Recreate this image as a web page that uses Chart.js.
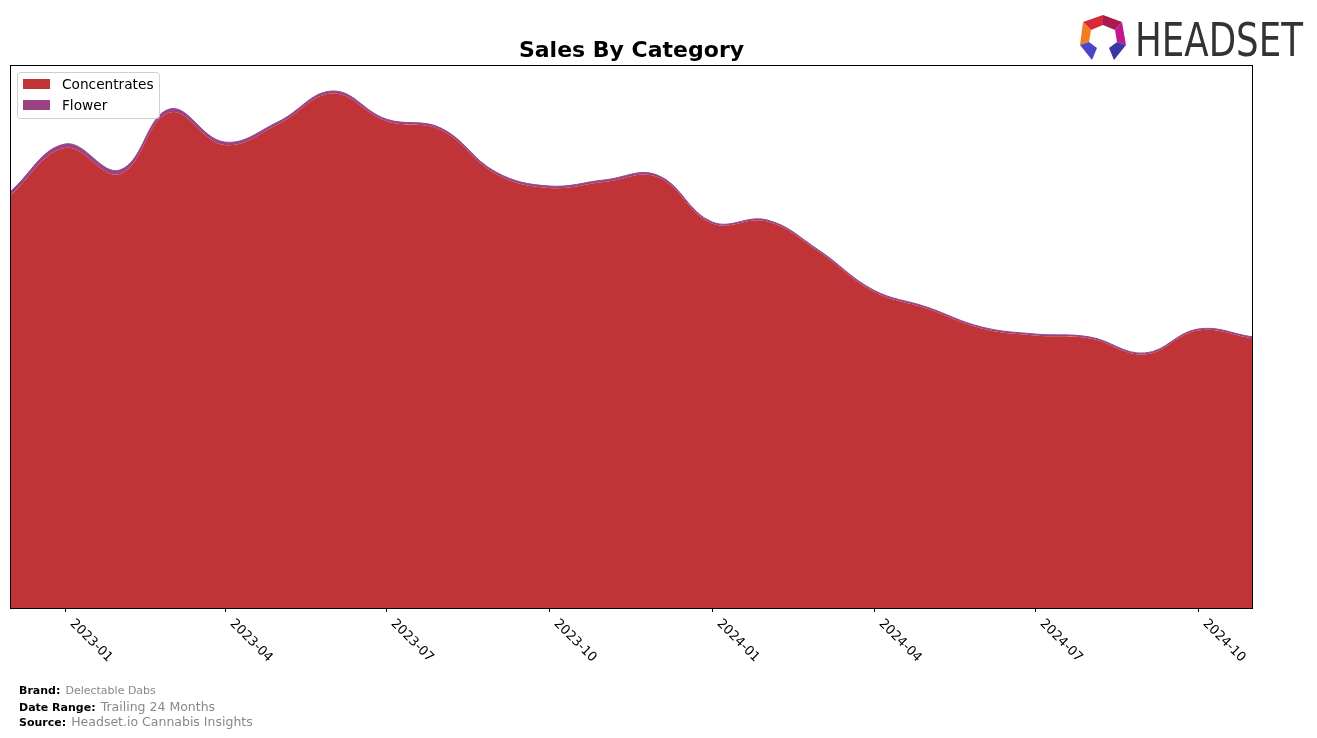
<!DOCTYPE html>
<html>
<head>
<meta charset="utf-8">
<script src="https://cdn.jsdelivr.net/npm/chart.js@4.4.1/dist/chart.umd.min.js"></script>
<style>
  body { margin: 0; background: #fff; font-family: "DejaVu Sans", sans-serif; }
  #wrap { position: relative; width: 1317px; height: 738px; }
  #logo { position: absolute; left: 0; top: 0; }
  .foot { position: absolute; left: 19px; white-space: nowrap; color: #000; }
  .foot b { font-size: 11px; }
  .foot span { color: #888; }
</style>
</head>
<body>
<div id="wrap">
  <canvas id="myChart" width="1317" height="738"></canvas>
  <svg id="logo" width="1317" height="70">
    <polygon points="1083,22 1103,15 1103,25 1091,30" fill="#d8283c"/>
    <polygon points="1103,15 1122,22 1115,30 1103,25" fill="#a81a50"/>
    <polygon points="1122,22 1126,45 1117,42 1115,30" fill="#c2188f"/>
    <polygon points="1083,22 1091,30 1089,42 1080,45" fill="#f47c20"/>
    <polygon points="1080,45 1089,42 1097,48 1092,60" fill="#4b45c8"/>
    <polygon points="1126,45 1117,42 1109,48 1114,60" fill="#3a36a8"/>
    <text x="1135" y="56" font-family="DejaVu Sans" font-size="47" fill="#333" textLength="168" lengthAdjust="spacingAndGlyphs">HEADSET</text>
  </svg>
  <div class="foot" style="top:679px"><b>Brand:</b> <span style="font-size:11px">Delectable Dabs</span></div>
  <div class="foot" style="top:696px"><b>Date Range:</b> <span style="font-size:12.5px">Trailing 24 Months</span></div>
  <div class="foot" style="top:711px"><b>Source:</b> <span style="font-size:12.5px">Headset.io Cannabis Insights</span></div>
</div>
<script>
var months = ['2022-12','2023-01','2023-02','2023-03','2023-04','2023-05','2023-06','2023-07','2023-08','2023-09','2023-10','2023-11',
	'2023-12','2024-01','2024-02','2024-03','2024-04','2024-05','2024-06','2024-07','2024-08','2024-09','2024-10','2024-11']
var concentrates = [412, 460, 434, 495.5, 463, 483.5, 514.5, 487, 478, 434, 420, 426,
	431, 384.5, 386.5, 356.5, 316.5, 299.5, 279.5, 272.5, 269.5, 253.5, 277.5, 269.5]
var flower = [4, 4, 4, 3.5, 3, 2.5, 2.5, 2, 2, 2, 2, 2,
	2, 1.5, 1.5, 1.5, 1.5, 1.5, 1.5, 1.5, 1.5, 1.5, 1.5, 1.5]
var tickLabels = ['2023-01','2023-04','2023-07','2023-10','2024-01','2024-04','2024-07','2024-10']

var Start = Date.UTC(2022, 11, 1)

// so ngay tu 2022-12-01
function dayOf(s) {
	let p = s.split('-').map(Number)
	return (Date.UTC(p[0], p[1] - 1, 1) - Start) / 86400000
}

function toPoints(arr) {
	return arr.map((v, i) => ({ x: dayOf(months[i]), y: v }))
}

/* ve khung, tick, nhan, legend, tieu de */
var decor = {
	id: 'decor',
	afterDraw(chart) {
		const c = chart.ctx
		const a = chart.chartArea
		const xs = chart.scales.x
		c.save()
		c.strokeStyle = '#000'
		c.lineWidth = 1
		c.strokeRect(a.left + 0.5, a.top + 0.5, a.right - a.left - 1, a.bottom - a.top)

		c.font = '13px "DejaVu Sans"'
		c.fillStyle = '#000'
		tickLabels.forEach(t => {
			const x = Math.round(xs.getPixelForValue(dayOf(t))) + 0.5
			c.beginPath()
			c.moveTo(x, a.bottom)
			c.lineTo(x, a.bottom + 4)
			c.stroke()
			c.save()
			c.translate(x + 11, a.bottom + 9)
			c.rotate(Math.PI / 4)
			c.textAlign = 'left'
			c.textBaseline = 'top'
			c.fillText(t, 0, 0)
			c.restore()
		})

		// tieu de
		c.font = 'bold 22px "DejaVu Sans"'
		c.textAlign = 'center'
		c.textBaseline = 'middle'
		c.fillText('Sales By Category', (a.left + a.right) / 2, 51)

		// legend
		const lx = a.left + 7, ly = a.top + 7
		c.fillStyle = 'rgba(255,255,255,0.8)'
		c.strokeStyle = '#d0d0d0'
		c.beginPath()
		c.roundRect(lx + 0.5, ly + 0.5, 142, 46, 3)
		c.fill()
		c.stroke()
		chart.data.datasets.forEach((ds, i) => {
			const y = ly + 7 + i * 21
			c.fillStyle = ds.backgroundColor
			c.fillRect(lx + 6, y, 27, 10)
			c.fillStyle = '#000'
			c.font = '13.7px "DejaVu Sans"'
			c.textAlign = 'left'
			c.textBaseline = 'middle'
			c.fillText(ds.label, lx + 45, y + 6)
		})
		c.restore()
	}
}

var ctx = document.getElementById('myChart').getContext('2d')
var chart = new Chart(ctx, {
	type: 'line',
	data: {
		datasets: [{
			label: 'Concentrates',
			data: toPoints(concentrates),
			backgroundColor: '#c03437',
			borderColor: '#c03437',
			borderWidth: 0,
			fill: 'origin'
		}, {
			label: 'Flower',
			data: toPoints(flower),
			backgroundColor: '#9b4283',
			borderColor: '#8e4a8e',
			borderWidth: 1,
			fill: '-1'
		}]
	},
	options: {
		responsive: false,
		animation: false,
		devicePixelRatio: 1,
		layout: { padding: { left: 10, right: 64, top: 65, bottom: 130 } },
		elements: { point: { radius: 0 }, line: { tension: 0.4 } },
		plugins: { legend: { display: false }, title: { display: false }, tooltip: { enabled: false } },
		scales: {
			x: { type: 'linear', display: false, min: 0, max: dayOf('2024-11') },
			y: { display: false, stacked: true, min: 0, max: 543 }
		}
	},
	plugins: [decor]
})
</script>
</body>
</html>
